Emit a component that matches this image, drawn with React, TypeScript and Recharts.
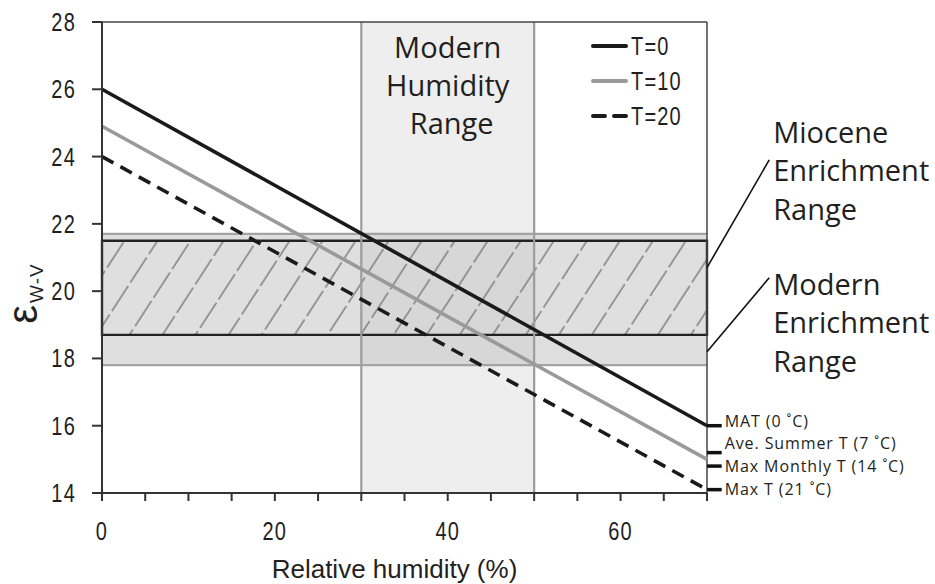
import React from 'react';
import {
  ComposedChart,
  Line,
  XAxis,
  YAxis,
  ReferenceArea,
  ReferenceLine,
  Legend,
} from 'recharts';

// Relative humidity (%) at the two ends of each enrichment line
const humidity = [0, 70];
// Enrichment ε(w-v) for three temperatures
const epsT0 = [26.0, 16.0];
const epsT10 = [24.9, 15.0];
const epsT20 = [24.0, 14.1];

const seriesKeys = ['t0', 't10', 't20'];
const seriesNames = ['T=0', 'T=10', 'T=20'];

const modernHumidityRange = [30, 50];
const modernEnrichmentRange = [17.8, 21.7];
const mioceneEnrichmentRange = [18.7, 21.5];

const xTicks = [0, 5, 10, 15, 20, 25, 30, 35, 40, 45, 50, 55, 60, 65, 70];
const xLabelTicks = [0, 20, 40, 60];
const yTicks = [14, 16, 18, 20, 22, 24, 26, 28];

// Temperature marks along the right edge (ε at RH = 70 %)
const tempMarkValues = [16.0, 15.2, 14.8, 14.1];
const tempMarkLabels = ['MAT (0 ˚C)', 'Ave. Summer T (7 ˚C)', 'Max Monthly T (14 ˚C)', 'Max T (21 ˚C)'];
const tempMarkEnd = 71.7; // RH where the short mark bars stop

// Leader lines for the enrichment-range callouts: [from, to] in (RH, ε)
const mioceneLeader = [{ x: 70, y: 20.7 }, { x: 77.2, y: 23.9 }];
const modernLeader = [{ x: 70, y: 18.2 }, { x: 77.2, y: 20.4 }];

const data = humidity.map((h, i) => ({ rh: h, t0: epsT0[i], t10: epsT10[i], t20: epsT20[i] }));

const INK = '#231f20';
const SANS = "'Liberation Sans', Arial, sans-serif";
const HUMANIST = "'Open Sans', 'Noto Sans', sans-serif";
const NARROW_X = 0.8; // horizontal squeeze for the condensed axis numerals

const lineStyle: Record<string, { stroke: string; dash?: string }> = {
  t0: { stroke: '#1a1a1a' },
  t10: { stroke: '#9a9a9a' },
  t20: { stroke: '#1a1a1a', dash: '13 8' },
};

const NarrowText = ({ x, y, anchor, children, size = 25 }: any) => (
  <text
    transform={`translate(${x}, ${y}) scale(${NARROW_X}, 1)`}
    x={0}
    y={0}
    textAnchor={anchor}
    fontFamily={SANS}
    fontSize={size}
    letterSpacing={1.5}
    fill={INK}
  >
    {children}
  </text>
);

const XTick = (props: any) => {
  const { x, y, payload } = props;
  if (!xLabelTicks.includes(payload.value)) return null;
  return (
    <NarrowText x={x} y={y + 37} anchor="middle">
      {payload.value}
    </NarrowText>
  );
};

const YTick = (props: any) => {
  const { x, y, payload } = props;
  return (
    <NarrowText x={x} y={y + 9} anchor="end">
      {payload.value}
    </NarrowText>
  );
};

// Small vertical shifts so the stacked mark labels do not collide
const labelNudge = [-4, -9, 0, 0];

const markLabel = (text: string, nudge: number) => (props: any) => {
  const vb = props.viewBox || {};
  const x = (vb.x ?? 0) + (vb.width ?? 0) + 3;
  const y = (vb.y ?? 0) + (vb.height ?? 0) / 2 + nudge;
  return (
    <text x={x} y={y} dy="0.36em" fontFamily={HUMANIST} fontSize={16} letterSpacing={0.9} fill={INK}>
      {text}
    </text>
  );
};

const calloutLabel = (lines: string[], firstBaseline: number) => (props: any) => {
  const vb = props.viewBox || {};
  const x = (vb.x ?? 0) + (vb.width ?? 0) + 4;
  const y = vb.y ?? 0;
  return (
    <text fontFamily={HUMANIST} fontSize={29} fill={INK}>
      {lines.map((l, i) => (
        <tspan key={l} x={x} y={y + firstBaseline + i * 38.5}>
          {l}
        </tspan>
      ))}
    </text>
  );
};

const humidityLabel = (props: any) => {
  const vb = props.viewBox || {};
  const cx = (vb.x ?? 0) + (vb.width ?? 0) / 2;
  const y = vb.y ?? 0;
  const lines = ['Modern', 'Humidity', 'Range'];
  return (
    <text fontFamily={HUMANIST} fontSize={29} fill={INK} textAnchor="middle">
      {lines.map((l, i) => (
        <tspan key={l} x={cx + (i === 2 ? 4 : 0)} y={y + 35.5 + i * 38}>
          {l}
        </tspan>
      ))}
    </text>
  );
};

const yAxisTitle = (props: any) => {
  const vb = props.viewBox || {};
  const bx = (vb.x ?? 0) + 37;
  const cy = (vb.y ?? 0) + (vb.height ?? 0) / 2 + 36;
  return (
    <text transform={`rotate(-90, ${bx}, ${cy})`} x={bx} y={cy} textAnchor="middle" fill={INK} fontFamily={SANS}>
      <tspan fontSize={42}>ε</tspan>
      <tspan fontSize={19} dx={2} dy={6} letterSpacing={1}>W-V</tspan>
    </text>
  );
};

const xAxisTitle = (props: any) => {
  const vb = props.viewBox || {};
  const cx = (vb.x ?? 0) + (vb.width ?? 0) / 2 - 10;
  const by = (vb.y ?? 0) + 85;
  return (
    <text x={cx} y={by} textAnchor="middle" fontFamily={SANS} fontSize={26} fill={INK}>
      Relative humidity (%)
    </text>
  );
};

const LegendBox = () => (
  <svg width={130} height={110} style={{ display: 'block' }}>
    {seriesKeys.map((k, i) => {
      const st = lineStyle[k];
      const y = 16 + i * 35;
      return (
        <g key={k}>
          <line
            x1={6}
            x2={39}
            y1={y}
            y2={y}
            stroke={st.stroke}
            strokeWidth={4}
            strokeLinecap="round"
            strokeDasharray={st.dash ? '12 9' : undefined}
          />
          <NarrowText x={44} y={y + 9} anchor="start" size={25}>
            {seriesNames[i]}
          </NarrowText>
        </g>
      );
    })}
  </svg>
);

export default function App() {
  return (
    <div style={{ position: 'absolute', left: 0, top: 0, width: 935, height: 584, background: '#fff' }}>
      <ComposedChart width={935} height={584} data={data} margin={{ top: 22, right: 228, bottom: 0, left: 0 }}>
        <defs>
          <pattern id="hatch" patternUnits="userSpaceOnUse" width={27.7} height={34} patternTransform="rotate(33)">
            <line x1={14} y1={0} x2={14} y2={30} stroke="#858585" strokeWidth={1.6} />
          </pattern>
        </defs>
        <XAxis
          dataKey="rh"
          type="number"
          domain={[0, 70]}
          ticks={xTicks}
          interval={0}
          height={91}
          tick={<XTick />}
          tickSize={8}
          axisLine={{ stroke: '#333', strokeWidth: 2 }}
          tickLine={{ stroke: '#333', strokeWidth: 2 }}
          label={{ content: xAxisTitle }}
        />
        <YAxis
          yAxisId="eps"
          type="number"
          domain={[14, 28]}
          ticks={yTicks}
          interval={0}
          width={102}
          tick={<YTick />}
          tickSize={10}
          tickMargin={16}
          axisLine={{ stroke: '#333', strokeWidth: 2 }}
          tickLine={{ stroke: '#333', strokeWidth: 2 }}
          label={{ content: yAxisTitle }}
        />

        <ReferenceArea
          yAxisId="eps"
          x1={modernHumidityRange[0]}
          x2={modernHumidityRange[1]}
          y1={14}
          y2={28}
          fill="#eeeeee"
          fillOpacity={1}
          stroke="none"
          label={{ content: humidityLabel }}
        />
        <ReferenceArea
          yAxisId="eps"
          x1={0}
          x2={70}
          y1={modernEnrichmentRange[0]}
          y2={modernEnrichmentRange[1]}
          fill="#c4c4c6"
          fillOpacity={0.55}
          stroke="none"
        />
        <ReferenceLine yAxisId="eps" y={modernEnrichmentRange[0]} stroke="#a3a3a3" strokeWidth={2.2} />
        <ReferenceLine yAxisId="eps" y={modernEnrichmentRange[1]} stroke="#a3a3a3" strokeWidth={2.2} />
        <ReferenceLine yAxisId="eps" x={modernHumidityRange[0]} stroke="#9d9d9d" strokeWidth={2.2} />
        <ReferenceLine yAxisId="eps" x={modernHumidityRange[1]} stroke="#9d9d9d" strokeWidth={2.2} />
        <ReferenceArea
          yAxisId="eps"
          x1={0}
          x2={70}
          y1={mioceneEnrichmentRange[0]}
          y2={mioceneEnrichmentRange[1]}
          fill="url(#hatch)"
          fillOpacity={1}
          stroke="#222"
          strokeWidth={2.4}
        />
        <ReferenceLine yAxisId="eps" y={28} stroke="#444" strokeWidth={1.5} />
        <ReferenceLine yAxisId="eps" x={70} stroke="#444" strokeWidth={1.5} />

        <ReferenceLine
          yAxisId="eps"
          segment={mioceneLeader}
          ifOverflow="visible"
          stroke="#111"
          strokeWidth={1.6}
          label={{ content: calloutLabel(['Miocene', 'Enrichment', 'Range'], -17.3) }}
        />
        <ReferenceLine
          yAxisId="eps"
          segment={modernLeader}
          ifOverflow="visible"
          stroke="#111"
          strokeWidth={1.6}
          label={{ content: calloutLabel(['Modern', 'Enrichment', 'Range'], 17) }}
        />

        {tempMarkValues.map((v, i) => (
          <ReferenceLine
            key={tempMarkLabels[i]}
            yAxisId="eps"
            segment={[{ x: 70, y: v }, { x: tempMarkEnd, y: v }]}
            ifOverflow="visible"
            stroke="#111"
            strokeWidth={3.5}
            label={{ content: markLabel(tempMarkLabels[i], labelNudge[i]) }}
          />
        ))}

        {seriesKeys.map((k, i) => (
          <Line
            key={k}
            yAxisId="eps"
            dataKey={k}
            name={seriesNames[i]}
            type="linear"
            stroke={lineStyle[k].stroke}
            strokeWidth={3.6}
            strokeDasharray={lineStyle[k].dash}
            dot={false}
            activeDot={false}
            isAnimationActive={false}
          />
        ))}

        <Legend
          layout="vertical"
          verticalAlign="middle"
          align="center"
          wrapperStyle={{ left: 587, top: 30, width: 130, height: 110 }}
          content={<LegendBox />}
        />
      </ComposedChart>
    </div>
  );
}
